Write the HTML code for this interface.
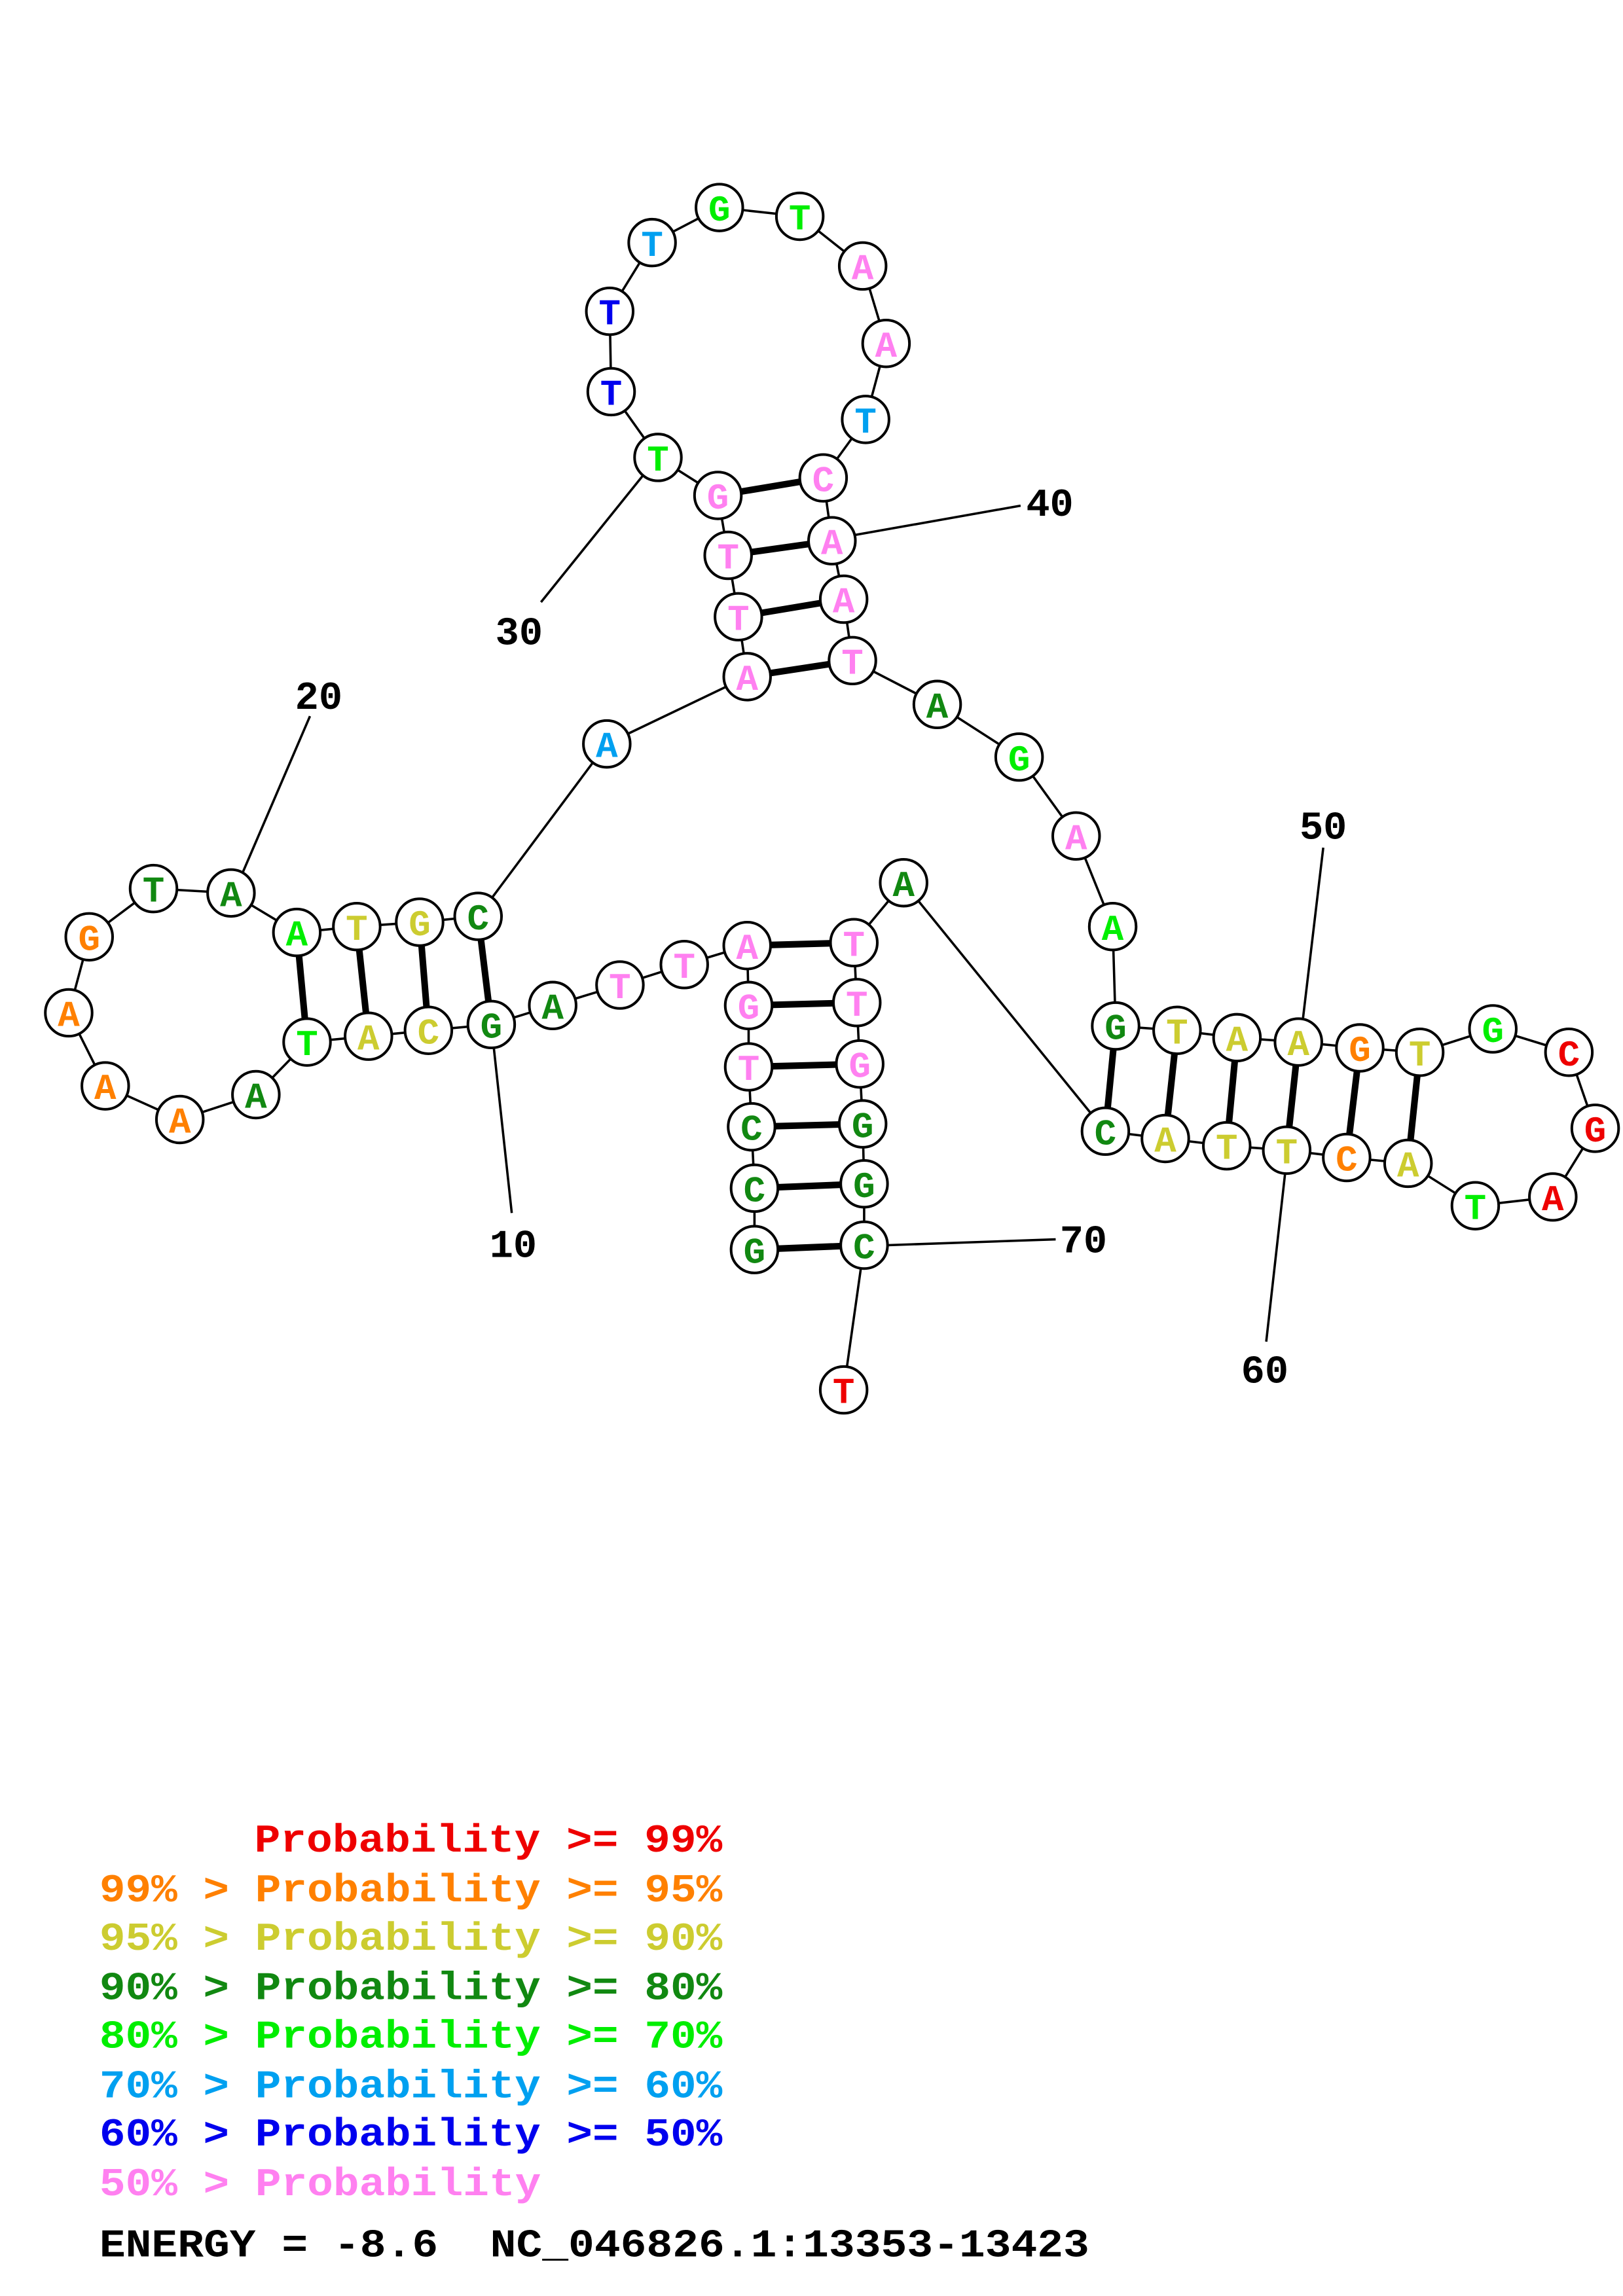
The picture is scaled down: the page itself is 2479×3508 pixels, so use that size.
<!DOCTYPE html>
<html><head><meta charset="utf-8"><style>
html,body{margin:0;padding:0;background:#fff;}
svg{display:block;}
.n{font-family:"Liberation Mono",monospace;font-weight:bold;font-size:25px;text-anchor:middle;}
.l{font-family:"Liberation Mono",monospace;font-weight:bold;font-size:27px;}
</style></head><body>
<svg width="2479" height="3508" viewBox="0 0 1110 1571" preserveAspectRatio="none" xmlns="http://www.w3.org/2000/svg">
<rect width="1110" height="1571" fill="#fff"/>
<g stroke="#000" stroke-width="1.6" fill="none">
<polyline points="516,855 516,813 514,771 512,730 512,688 511,647 468,660 424,674 378,688 336,701 293,705 252,709 210,713 175,749 123,766 72,743 47,693 61,641 105,608 158,611 203,638 244,634 287,631 327,627 415,509 511,463 505,422 498,380 491,339 450,313 418,268 417,213 446,166 492,142 547,148 590,182 606,235 592,287 563,327 569,370 577,410 583,452 641,482 697,518 736,572 761,634 763,702 805,705 846,710 888,713 930,717 971,720 1021,704 1073,720 1091,772 1062,819 1009,825 963,796 921,792 880,787 839,784 797,779 756,774 618,604 584,645 586,686 588,728 590,769 591,810 591,852 577,951"/>
<line x1="336" y1="701" x2="350" y2="830"/>
<line x1="166" y1="597" x2="212" y2="490"/>
<line x1="440" y1="325" x2="370" y2="412"/>
<line x1="585" y1="366" x2="698" y2="346"/>
<line x1="891" y1="698" x2="905" y2="580"/>
<line x1="879" y1="802" x2="866" y2="918"/>
<line x1="607" y1="852" x2="722" y2="848"/>
</g>
<g stroke="#000" stroke-width="4.5">
<line x1="516" y1="855" x2="591" y2="852"/><line x1="516" y1="813" x2="591" y2="810"/><line x1="514" y1="771" x2="590" y2="769"/><line x1="512" y1="730" x2="588" y2="728"/><line x1="512" y1="688" x2="586" y2="686"/><line x1="511" y1="647" x2="584" y2="645"/>
<line x1="336" y1="701" x2="327" y2="627"/><line x1="293" y1="705" x2="287" y2="631"/><line x1="252" y1="709" x2="244" y2="634"/><line x1="210" y1="713" x2="203" y2="638"/>
<line x1="511" y1="463" x2="583" y2="452"/><line x1="505" y1="422" x2="577" y2="410"/><line x1="498" y1="380" x2="569" y2="370"/><line x1="491" y1="339" x2="563" y2="327"/>
<line x1="763" y1="702" x2="756" y2="774"/><line x1="805" y1="705" x2="797" y2="779"/><line x1="846" y1="710" x2="839" y2="784"/><line x1="888" y1="713" x2="880" y2="787"/><line x1="930" y1="717" x2="921" y2="792"/><line x1="971" y1="720" x2="963" y2="796"/>
</g>
<g fill="#fff" stroke="#000" stroke-width="1.8">
<circle cx="516" cy="855" r="16"/><circle cx="516" cy="813" r="16"/><circle cx="514" cy="771" r="16"/><circle cx="512" cy="730" r="16"/><circle cx="512" cy="688" r="16"/><circle cx="511" cy="647" r="16"/><circle cx="468" cy="660" r="16"/><circle cx="424" cy="674" r="16"/><circle cx="378" cy="688" r="16"/><circle cx="336" cy="701" r="16"/><circle cx="293" cy="705" r="16"/><circle cx="252" cy="709" r="16"/><circle cx="210" cy="713" r="16"/><circle cx="175" cy="749" r="16"/><circle cx="123" cy="766" r="16"/><circle cx="72" cy="743" r="16"/><circle cx="47" cy="693" r="16"/><circle cx="61" cy="641" r="16"/><circle cx="105" cy="608" r="16"/><circle cx="158" cy="611" r="16"/><circle cx="203" cy="638" r="16"/><circle cx="244" cy="634" r="16"/><circle cx="287" cy="631" r="16"/><circle cx="327" cy="627" r="16"/><circle cx="415" cy="509" r="16"/><circle cx="511" cy="463" r="16"/><circle cx="505" cy="422" r="16"/><circle cx="498" cy="380" r="16"/><circle cx="491" cy="339" r="16"/><circle cx="450" cy="313" r="16"/><circle cx="418" cy="268" r="16"/><circle cx="417" cy="213" r="16"/><circle cx="446" cy="166" r="16"/><circle cx="492" cy="142" r="16"/><circle cx="547" cy="148" r="16"/><circle cx="590" cy="182" r="16"/><circle cx="606" cy="235" r="16"/><circle cx="592" cy="287" r="16"/><circle cx="563" cy="327" r="16"/><circle cx="569" cy="370" r="16"/><circle cx="577" cy="410" r="16"/><circle cx="583" cy="452" r="16"/><circle cx="641" cy="482" r="16"/><circle cx="697" cy="518" r="16"/><circle cx="736" cy="572" r="16"/><circle cx="761" cy="634" r="16"/><circle cx="763" cy="702" r="16"/><circle cx="805" cy="705" r="16"/><circle cx="846" cy="710" r="16"/><circle cx="888" cy="713" r="16"/><circle cx="930" cy="717" r="16"/><circle cx="971" cy="720" r="16"/><circle cx="1021" cy="704" r="16"/><circle cx="1073" cy="720" r="16"/><circle cx="1091" cy="772" r="16"/><circle cx="1062" cy="819" r="16"/><circle cx="1009" cy="825" r="16"/><circle cx="963" cy="796" r="16"/><circle cx="921" cy="792" r="16"/><circle cx="880" cy="787" r="16"/><circle cx="839" cy="784" r="16"/><circle cx="797" cy="779" r="16"/><circle cx="756" cy="774" r="16"/><circle cx="618" cy="604" r="16"/><circle cx="584" cy="645" r="16"/><circle cx="586" cy="686" r="16"/><circle cx="588" cy="728" r="16"/><circle cx="590" cy="769" r="16"/><circle cx="591" cy="810" r="16"/><circle cx="591" cy="852" r="16"/><circle cx="577" cy="951" r="16"/>
</g>
<g class="n">
<text x="516" y="864" fill="#118811">G</text><text x="516" y="822" fill="#118811">C</text><text x="514" y="780" fill="#118811">C</text><text x="512" y="739" fill="#ff80f0">T</text><text x="512" y="697" fill="#ff80f0">G</text><text x="511" y="656" fill="#ff80f0">A</text><text x="468" y="669" fill="#ff80f0">T</text><text x="424" y="683" fill="#ff80f0">T</text><text x="378" y="697" fill="#118811">A</text><text x="336" y="710" fill="#118811">G</text><text x="293" y="714" fill="#cccc30">C</text><text x="252" y="718" fill="#cccc30">A</text><text x="210" y="722" fill="#00ee00">T</text><text x="175" y="758" fill="#118811">A</text><text x="123" y="775" fill="#ff8000">A</text><text x="72" y="752" fill="#ff8000">A</text><text x="47" y="702" fill="#ff8000">A</text><text x="61" y="650" fill="#ff8000">G</text><text x="105" y="617" fill="#118811">T</text><text x="158" y="620" fill="#118811">A</text><text x="203" y="647" fill="#00ee00">A</text><text x="244" y="643" fill="#cccc30">T</text><text x="287" y="640" fill="#cccc30">G</text><text x="327" y="636" fill="#118811">C</text><text x="415" y="518" fill="#00a0f0">A</text><text x="511" y="472" fill="#ff80f0">A</text><text x="505" y="431" fill="#ff80f0">T</text><text x="498" y="389" fill="#ff80f0">T</text><text x="491" y="348" fill="#ff80f0">G</text><text x="450" y="322" fill="#00ee00">T</text><text x="418" y="277" fill="#0000ee">T</text><text x="417" y="222" fill="#0000ee">T</text><text x="446" y="175" fill="#00a0f0">T</text><text x="492" y="151" fill="#00ee00">G</text><text x="547" y="157" fill="#00ee00">T</text><text x="590" y="191" fill="#ff80f0">A</text><text x="606" y="244" fill="#ff80f0">A</text><text x="592" y="296" fill="#00a0f0">T</text><text x="563" y="336" fill="#ff80f0">C</text><text x="569" y="379" fill="#ff80f0">A</text><text x="577" y="419" fill="#ff80f0">A</text><text x="583" y="461" fill="#ff80f0">T</text><text x="641" y="491" fill="#118811">A</text><text x="697" y="527" fill="#00ee00">G</text><text x="736" y="581" fill="#ff80f0">A</text><text x="761" y="643" fill="#00ee00">A</text><text x="763" y="711" fill="#118811">G</text><text x="805" y="714" fill="#cccc30">T</text><text x="846" y="719" fill="#cccc30">A</text><text x="888" y="722" fill="#cccc30">A</text><text x="930" y="726" fill="#ff8000">G</text><text x="971" y="729" fill="#cccc30">T</text><text x="1021" y="713" fill="#00ee00">G</text><text x="1073" y="729" fill="#ee0000">C</text><text x="1091" y="781" fill="#ee0000">G</text><text x="1062" y="828" fill="#ee0000">A</text><text x="1009" y="834" fill="#00ee00">T</text><text x="963" y="805" fill="#cccc30">A</text><text x="921" y="801" fill="#ff8000">C</text><text x="880" y="796" fill="#cccc30">T</text><text x="839" y="793" fill="#cccc30">T</text><text x="797" y="788" fill="#cccc30">A</text><text x="756" y="783" fill="#118811">C</text><text x="618" y="613" fill="#118811">A</text><text x="584" y="654" fill="#ff80f0">T</text><text x="586" y="695" fill="#ff80f0">T</text><text x="588" y="737" fill="#ff80f0">G</text><text x="590" y="778" fill="#118811">G</text><text x="591" y="819" fill="#118811">G</text><text x="591" y="861" fill="#118811">C</text><text x="577" y="960" fill="#ee0000">T</text>
</g>
<g class="l" fill="#000" text-anchor="middle">
<text x="351" y="860">10</text><text x="218" y="485">20</text><text x="355" y="441">30</text><text x="718" y="353">40</text><text x="905" y="574">50</text><text x="865" y="946">60</text><text x="741" y="857">70</text>
</g>
<g class="l">
<text x="174" y="1267" fill="#ee0000" textLength="320" lengthAdjust="spacingAndGlyphs">Probability &gt;= 99%</text>
<text x="68" y="1301" fill="#ff8000" textLength="426" lengthAdjust="spacingAndGlyphs">99% &gt; Probability &gt;= 95%</text>
<text x="68" y="1334" fill="#cccc30" textLength="426" lengthAdjust="spacingAndGlyphs">95% &gt; Probability &gt;= 90%</text>
<text x="68" y="1368" fill="#118811" textLength="426" lengthAdjust="spacingAndGlyphs">90% &gt; Probability &gt;= 80%</text>
<text x="68" y="1401" fill="#00ee00" textLength="426" lengthAdjust="spacingAndGlyphs">80% &gt; Probability &gt;= 70%</text>
<text x="68" y="1435" fill="#00a0f0" textLength="426" lengthAdjust="spacingAndGlyphs">70% &gt; Probability &gt;= 60%</text>
<text x="68" y="1468" fill="#0000ee" textLength="426" lengthAdjust="spacingAndGlyphs">60% &gt; Probability &gt;= 50%</text>
<text x="68" y="1502" fill="#ff80f0" textLength="302" lengthAdjust="spacingAndGlyphs">50% &gt; Probability</text>
<text x="68" y="1544" fill="#000" textLength="677" lengthAdjust="spacingAndGlyphs" xml:space="preserve">ENERGY = -8.6  NC_046826.1:13353-13423</text>
</g>
</svg>
</body></html>
